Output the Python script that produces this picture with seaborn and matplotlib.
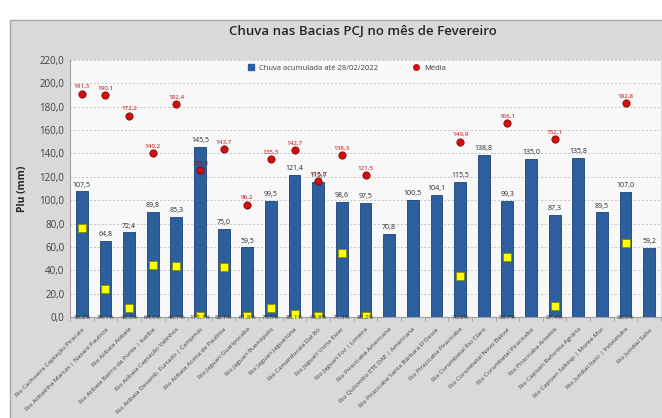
import numpy as np
import pandas as pd
import matplotlib.pyplot as plt
import matplotlib.patches as mpatches
from matplotlib.lines import Line2D
import seaborn as sns

# Dados (mm)
estacoes = [
    'Rio Cachoeira Captação Piracaia',
    'Rio Atibainha Marcas | Nazaré Paulista',
    'Rio Atibaia Atibaia',
    'Rio Atibaia Bairro da Ponte | Itatiba',
    'Rio Atibaia Captação Valinhos',
    'Rio Atibaia Desemb. Furtado | Campinas',
    'Rio Atibaia Acima de Paulínia',
    'Rio Jaguari Guaripocaba',
    'Rio Jaguari Buenópolis',
    'Rio Jaguari Jaguariúna',
    'Rio Camanducaia Dal Bó',
    'Rio Jaguari Usina Ester',
    'Rio Jaguari Foz | Limeira',
    'Rio Piracicaba Americana',
    'Rio Quilombo ETE DAE | Americana',
    "Rio Piracicaba Santa Bárbara D'Oeste",
    'Rio Piracicaba Piracicaba',
    'Rio Corumbataí Rio Claro',
    'Rio Corumbataí Novo Batovi',
    'Rio Corumbataí Piracicaba',
    'Rio Piracicaba Artemis',
    'Rio Capivari Reforma Agrária',
    'Rio Capivari Sabesp | Monte Mor',
    'Rio Jundiaí Itaici | Indaiatuba',
    'Rio Jundiaí Salto',
]
chuva = [107.5, 64.8, 72.4, 89.8, 85.3, 145.5, 75.0, 59.5, 99.5, 121.4,
         115.7, 98.6, 97.5, 70.8, 100.5, 104.1, 115.5, 138.8, 99.3, 135.0,
         87.3, 135.8, 89.5, 107.0, 59.2]
media = [191.3, 190.1, 172.2, 140.2, 182.4, 125.8, 143.7, 96.2, 135.3, 142.7,
         116.0, 138.3, 121.5, np.nan, np.nan, np.nan, 149.9, np.nan, 166.1, np.nan,
         152.1, np.nan, np.nan, 182.8, np.nan]
quadrado = [76, 24, 8, 44.5, 43.5, 0.5, 43, 1, 8, 2.5,
            0.5, 55, 0.5, np.nan, np.nan, np.nan, 35, np.nan, 51, np.nan,
            9.5, np.nan, np.nan, 63, np.nan]
percentual = ['56,2%', '34,1%', '42,0%', '64,0%', '46,7%', '115,7%', '52,1%', '61,8%',
              '73,5%', '85,1%', '99,8%', '71,3%', '80,2%', '', '', '', '76,8%', '',
              '59,7%', '', '57,4%', '', '', '58,6%', '']

df = pd.DataFrame({'estacao': estacoes, 'chuva': chuva, 'media': media,
                   'quadrado': quadrado, 'pct': percentual})
df['x'] = range(len(df))

def br(v):
    return f'{v:.1f}'.replace('.', ',')

sns.set_style('white')
plt.rcParams['font.family'] = ['Open Sans', 'DejaVu Sans']

fig = plt.figure(figsize=(6.62, 4.18), dpi=100, facecolor='white')
# painel cinza do grafico
painel = mpatches.Rectangle((10 / 662, -0.01), 1, 1.01 - 20 / 418, transform=fig.transFigure,
                            facecolor='#d9d9d9', edgecolor='#a6a6a6', lw=1, zorder=-5)
fig.patches.append(painel)
ax = fig.add_axes([70 / 662, 1 - 317 / 418, 591 / 662, 257 / 418])
ax.set_facecolor('#f8f8f8')

sns.barplot(data=df, x='x', y='chuva', color='#2d5f9f', width=0.5, ax=ax,
            edgecolor='#1c4275', linewidth=0.6, saturation=1, zorder=3)
sns.scatterplot(data=df, x='x', y='media', color='#d01010', edgecolor='#7a0000',
                s=28, linewidth=0.5, ax=ax, zorder=5)
sns.scatterplot(data=df, x='x', y='quadrado', color='#ffff00', edgecolor='#8a8a00',
                marker='s', s=40, linewidth=0.6, ax=ax, zorder=5)

for i, r in df.iterrows():
    ax.text(r['x'], r['chuva'] + 2.5, br(r['chuva']), ha='center', va='bottom',
            fontsize=5, color='#262626', zorder=6)
    if not np.isnan(r['media']):
        ax.text(r['x'], r['media'] + 4, br(r['media']), ha='center', va='bottom',
                fontsize=4.5, color='#c00000', zorder=6)
    if r['pct']:
        ax.text(r['x'], -0.5, r['pct'], ha='center', va='center',
                fontsize=4.5, color='#333333', zorder=6)

ax.set_ylim(0, 220)
ax.set_xlim(-0.5, len(df) - 0.5)
ax.set_yticks(np.arange(0, 221, 20))
ax.set_yticklabels([br(v) for v in np.arange(0, 221, 20)], fontsize=7, color='#404040')
ax.yaxis.grid(True, linestyle=(0, (2, 2)), color='#c4c4c4', lw=0.7, zorder=0)
ax.set_axisbelow(True)
ax.set_xticks(df['x'])
ax.set_xticklabels(df['estacao'], rotation=45, ha='right', rotation_mode='anchor',
                   fontsize=4.6, color='#404040')
ax.set_xticks(np.arange(-0.5, len(df), 1), minor=True)
ax.tick_params(axis='x', which='major', length=0, pad=7)
ax.tick_params(axis='x', which='minor', length=3, color='#a0a0a0', direction='out', bottom=True)
ax.tick_params(axis='y', length=0, pad=4)
ax.set_xlabel('')
ax.set_ylabel('Plu (mm)', fontsize=7.5, fontweight='bold', color='#262626', labelpad=8)
for s in ['top', 'right']:
    ax.spines[s].set_visible(False)
ax.spines['left'].set_color('#a0a0a0')
ax.spines['bottom'].set_color('#a0a0a0')
ax.spines['left'].set_linewidth(0.8)
ax.spines['bottom'].set_linewidth(0.8)

handles = [Line2D([], [], marker='s', ls='', color='#2d5f9f', markersize=4),
           Line2D([], [], marker='o', ls='', color='#d01010', markersize=4)]
ax.legend(handles, ['Chuva acumulada até 28/02/2022', 'Média'], ncol=2, frameon=False,
          loc='upper center', bbox_to_anchor=(0.465, 1.01), fontsize=5.5,
          handletextpad=0.1, columnspacing=4, labelcolor='#404040')

fig.text(363 / 662, 1 - 31 / 418, 'Chuva nas Bacias PCJ no mês de Fevereiro',
         ha='center', va='center', fontsize=9.5, fontweight='semibold', color='#262626')

fig.savefig('out.png', dpi=100)
